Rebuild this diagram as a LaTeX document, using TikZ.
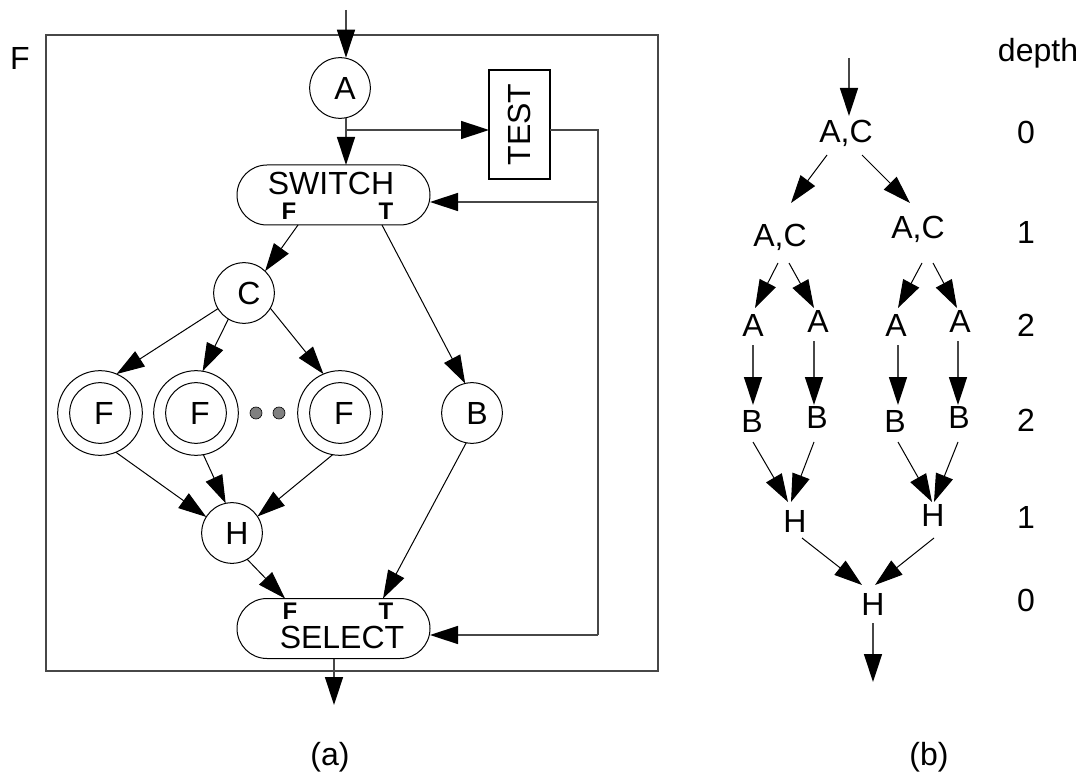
\documentclass[tikz,border=0pt]{standalone}
\usepackage{fontspec}
\setmainfont{Liberation Sans}
\usepackage{graphicx}
\usetikzlibrary{arrows.meta,calc}
\begin{document}
\begin{tikzpicture}[x=0.75pt,y=-0.75pt,
  every node/.style={inner sep=0pt,outer sep=0pt},
  lbl/.style={font=\fontsize{24}{28}\selectfont, text height=17.2pt, text depth=0pt},
  tf/.style={font=\fontsize{18}{21}\selectfont\bfseries, text height=12.9pt, text depth=0pt},
  circ/.style={draw,circle,line width=0.75pt,minimum size=45.5pt,font=\fontsize{24}{28}\selectfont, text height=17.2pt, text depth=0pt},
  fout/.style={draw,circle,line width=0.75pt,minimum size=63.5pt},
  pill/.style={draw,rectangle,rounded corners=22.5pt,line width=0.75pt,minimum width=144.75pt,minimum height=45pt},
  tbox/.style={draw,rectangle,line width=0.9pt,minimum width=45.75pt,minimum height=81.75pt,font=\fontsize{24}{28}\selectfont},
  arr/.style={-{Triangle[length=21pt,width=13.5pt,color=black]},line width=0.75pt},
  ortho/.style={line width=1.1pt,draw=black!72},
  dotn/.style={circle,draw,fill=black!50,line width=0.5pt,minimum size=9pt},
]
\useasboundingbox (0,0) rectangle (1080,773);

% ---------- (a) ----------
\draw[ortho] (46,35) rectangle (658,671);
\node[lbl] (Flab) at (20,58) {F};

\node[circ] (A) at (340,88) {\hspace*{7.5pt}A};
\node[tbox] (TEST) at (519.5,124.5) {\rotatebox{90}{TEST}};
\node[pill] (SW) at (333.5,195) {};
\node[lbl] (swS) at (331,183) {SWITCH};
\node[tf] (swF) at (289,211) {F};
\node[tf] (swT) at (386,211) {T};

\node[circ] (C) at (244,293) {\hspace*{7.5pt}C};
\node[fout] (F1) at (100,413) {};
\node[circ] (F1i) at (100,413) {\hspace*{6pt}F};
\node[fout] (F2) at (196,413) {};
\node[circ] (F2i) at (196,413) {\hspace*{6pt}F};
\node[fout] (F3) at (340,413) {};
\node[circ] (F3i) at (340,413) {\hspace*{6pt}F};
\node[dotn] (d1) at (256,413) {};
\node[dotn] (d2) at (279,413) {};
\node[circ] (B) at (472,413) {\hspace*{7.5pt}B};
\node[circ] (H) at (232,533) {\hspace*{7.5pt}H};

\node[pill] (SL) at (333.5,628.5) {};
\node[tf] (slF) at (290,611) {F};
\node[tf] (slT) at (386,611) {T};
\node[lbl] (slS) at (342,637) {SELECT};

\coordinate (inA) at (346,10);
\coordinate (brA) at (346,130);
\coordinate (fbT) at (598,130);
\coordinate (fbS) at (598,202);
\coordinate (fbE) at (598,635);
\coordinate (outA) at (334,705);

\draw[arr,ortho] (inA) -- ($(A.north)+(6,0)$);
\draw[arr,ortho] ($(A.south)+(6,0)$) -- ($(SW.north)+(12.5,0)$);
\draw[arr,ortho] (brA) -- (brA -| TEST.west);
\draw[ortho] (TEST.east |- brA) -- (fbT) -- (fbE);
\draw[arr,ortho] (fbS) -- (fbS -| SW.east);
\draw[arr,ortho] (fbE) -- (fbE -| SL.east);

\draw[arr] ($(SW.south)+(-35.5,0)$) -- (C.46);
\draw[arr] ($(SW.south)+(48.5,0)$) -- (B.103);
\draw[arr] (C.211) -- (F1.67);
\draw[arr] (C.239) -- (F2.81);
\draw[arr] (C.330) -- (F3.113);
\draw[arr] (F1.292) -- (H.148);
\draw[arr] (F2.280) -- (H.102);
\draw[arr] (F3.260) -- (H.33);
\draw[arr] (H.300) -- ($(SL.north)+(-48.5,0)$);
\draw[arr] (B.259) -- ($(SL.north)+(49.5,0)$);
\draw[arr,ortho] ($(SL.south)+(0.5,0)$) -- (outA);

\node[lbl] (capA) at (330,754) {(a)};

% ---------- (b) ----------
\node[lbl] (depth) at (1038,50) {depth};
\node[lbl] (dg0) at (1026,132) {0};
\node[lbl] (dg1) at (1026,232) {1};
\node[lbl] (dg2) at (1026,325) {2};
\node[lbl] (dg3) at (1026,420) {2};
\node[lbl] (dg4) at (1026,517) {1};
\node[lbl] (dg5) at (1026,600) {0};

\node[lbl] (acT) at (846,131) {A,C};
\node[lbl] (acL) at (780,235) {A,C};
\node[lbl] (acR) at (918,227) {A,C};
\node[lbl] (A1) at (753,325) {A};
\node[lbl] (A2) at (818,321) {A};
\node[lbl] (A3) at (896,325) {A};
\node[lbl] (A4) at (960,321) {A};
\node[lbl] (B1) at (752,421) {B};
\node[lbl] (B2) at (817,417) {B};
\node[lbl] (B3) at (895,421) {B};
\node[lbl] (B4) at (959,417) {B};
\node[lbl] (H1) at (795,521) {H};
\node[lbl] (H2) at (933,515) {H};
\node[lbl] (H0) at (873,604) {H};

\coordinate (inB) at (849,58);
\coordinate (outB) at (873,682);

\draw[arr,ortho] (inB) -- ($(acT)+(3,-15)$);
\draw[arr] ($(acT)+(-19,24)$) -- ($(acL)+(11,-32)$);
\draw[arr] ($(acT)+(16,24)$) -- ($(acR)+(-8,-24)$);
\draw[arr] ($(acL)+(-2,28)$) -- ($(A1)+(2,-17)$);
\draw[arr] ($(acL)+(9,28)$) -- ($(A2)+(-4,-13)$);
\draw[arr] ($(acR)+(4,36)$) -- ($(A3)+(2,-17)$);
\draw[arr] ($(acR)+(15,36)$) -- ($(A4)+(-3,-13)$);
\draw[arr,ortho] ($(A1)+(0,20)$) -- ($(B1)+(1,-16)$);
\draw[arr,ortho] ($(A2)+(-4,20)$) -- ($(B2)+(-3,-12)$);
\draw[arr,ortho] ($(A3)+(2,20)$) -- ($(B3)+(3,-16)$);
\draw[arr,ortho] ($(A4)+(-2,20)$) -- ($(B4)+(-1,-12)$);
\draw[arr] ($(B1)+(1,21)$) -- ($(H1)+(-7,-19)$);
\draw[arr] ($(B2)+(-3,25)$) -- ($(H1)+(-4,-19)$);
\draw[arr] ($(B3)+(3,21)$) -- ($(H2)+(-1,-13)$);
\draw[arr] ($(B4)+(-1,25)$) -- ($(H2)+(1,-13)$);
\draw[arr] ($(H1)+(7,17)$) -- ($(H0)+(-11,-19)$);
\draw[arr] ($(H2)+(1,23)$) -- ($(H0)+(2,-19)$);
\draw[arr,ortho] ($(H0)+(0,19)$) -- (outB);

\node[lbl] (capB) at (929,754) {(b)};
\end{tikzpicture}
\end{document}
